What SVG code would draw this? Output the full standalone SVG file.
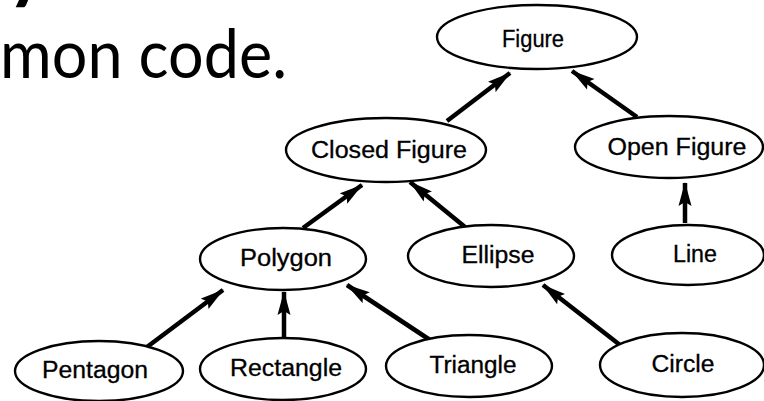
<svg xmlns="http://www.w3.org/2000/svg" width="764" height="401" viewBox="0 0 764 401">
<style>
.n ellipse{fill:#fff;stroke:#000;stroke-width:2.4}
.n text{font-family:"Liberation Sans",Arial,sans-serif;font-size:23px;fill:#000;text-anchor:middle;stroke:#000;stroke-width:0.3}
.c line{stroke:#000;stroke-width:4.5;marker-end:url(#ah)}
.title{font-family:Lato,"Open Sans",sans-serif;fill:#000}
</style>
<defs>
<marker id="ah" markerUnits="userSpaceOnUse" viewBox="0 0 24 14" refX="23" refY="7" markerWidth="24" markerHeight="14" orient="auto">
<path d="M0,0.5 L24,7 L0,13.5 L4,7 z" fill="#000"/>
</marker>
</defs>
<rect width="764" height="401" fill="#fff"/>
<text class="title" x="8" y="-5" font-size="70" font-weight="900">y</text>
<text class="title" x="0" y="78" font-size="67" textLength="287" lengthAdjust="spacingAndGlyphs">mon code.</text>
<g class="c">
<line x1="447" y1="121" x2="510" y2="73"/>
<line x1="637" y1="117" x2="572" y2="71"/>
<line x1="303" y1="228" x2="362" y2="185"/>
<line x1="465" y1="227" x2="410" y2="182"/>
<line x1="685" y1="223" x2="685" y2="183"/>
<line x1="147" y1="347" x2="223" y2="290"/>
<line x1="284" y1="338" x2="284" y2="292"/>
<line x1="430" y1="340" x2="347" y2="285"/>
<line x1="620" y1="345" x2="543" y2="285"/>
</g>
<g class="n" id="figure"><ellipse cx="537" cy="37" rx="100" ry="32"/><text x="533" y="47" textLength="62" lengthAdjust="spacingAndGlyphs">Figure</text></g>
<g class="n" id="closed-figure"><ellipse cx="386" cy="150" rx="100" ry="32"/><text x="389" y="158" textLength="156" lengthAdjust="spacingAndGlyphs">Closed Figure</text></g>
<g class="n" id="open-figure"><ellipse cx="669" cy="147" rx="94" ry="31"/><text x="677" y="155" textLength="139" lengthAdjust="spacingAndGlyphs">Open Figure</text></g>
<g class="n" id="polygon"><ellipse cx="283" cy="259" rx="83" ry="31"/><text x="286" y="266" textLength="92" lengthAdjust="spacingAndGlyphs">Polygon</text></g>
<g class="n" id="ellipse"><ellipse cx="491" cy="256" rx="83" ry="31"/><text x="498" y="263" textLength="73" lengthAdjust="spacingAndGlyphs">Ellipse</text></g>
<g class="n" id="line"><ellipse cx="688" cy="255" rx="76" ry="30"/><text x="695" y="262" textLength="44" lengthAdjust="spacingAndGlyphs">Line</text></g>
<g class="n" id="pentagon"><ellipse cx="99" cy="371" rx="84" ry="30"/><text x="95" y="378" textLength="106" lengthAdjust="spacingAndGlyphs">Pentagon</text></g>
<g class="n" id="rectangle"><ellipse cx="283" cy="369" rx="83" ry="31"/><text x="286" y="376" textLength="112" lengthAdjust="spacingAndGlyphs">Rectangle</text></g>
<g class="n" id="triangle"><ellipse cx="469" cy="366" rx="83" ry="31"/><text x="473" y="373" textLength="87" lengthAdjust="spacingAndGlyphs">Triangle</text></g>
<g class="n" id="circle"><ellipse cx="682" cy="365" rx="82" ry="32"/><text x="683" y="372" textLength="63" lengthAdjust="spacingAndGlyphs">Circle</text></g>
</svg>
